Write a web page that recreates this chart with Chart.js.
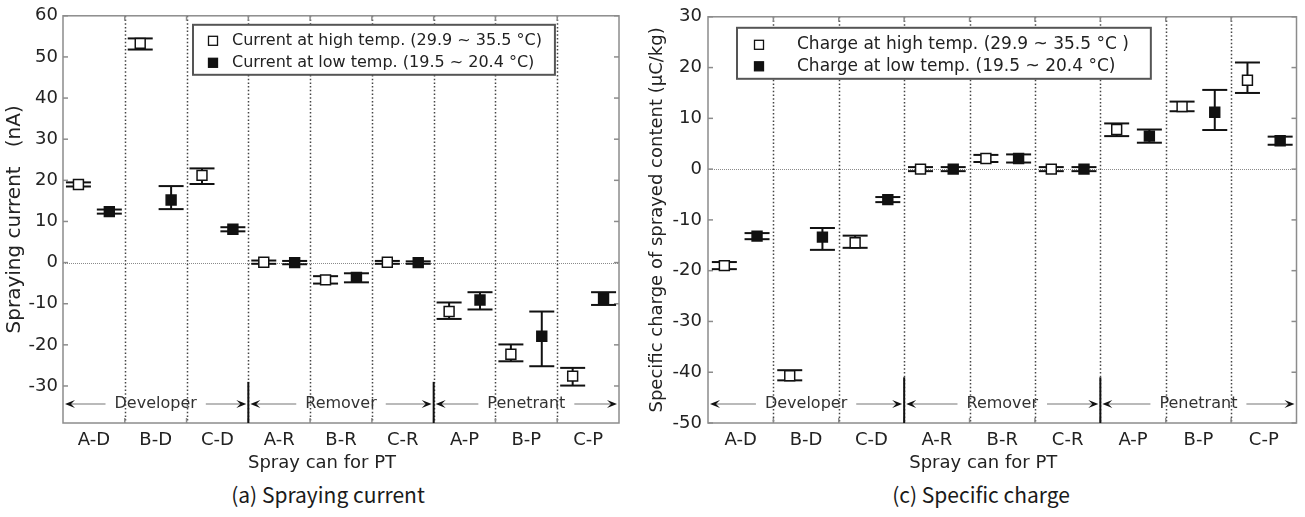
<!DOCTYPE html>
<html lang="en">
<head>
<meta charset="UTF-8">
<title>Spraying current and specific charge of PT spray cans</title>
<script src="https://cdn.jsdelivr.net/npm/chart.js@4.4.1/dist/chart.umd.min.js"></script>
<style>
    body {
        margin: 0;
        background: #fff;
        width: 1305px;
        height: 517px;
        position: relative;
        overflow: hidden;
    }
    canvas {
        position: absolute;
        top: 0;
    }
    #chartA { left: 0; }
    #chartC { left: 640px; }
    .caption {
        position: absolute;
        top: 479px;
        font-family: "Noto Sans CJK KR", sans-serif;
        font-size: 21px;
        color: #1a1a1a;
        white-space: nowrap;
        transform: translateX(-50%);
    }
</style>
</head>
<body>
<canvas id="chartA" width="640" height="478"></canvas>
<canvas id="chartC" width="665" height="478"></canvas>
<div class="caption" style="left:328px">(a) Spraying current</div>
<div class="caption" style="left:981px">(c) Specific charge</div>

<script>
const cans = ['A-D', 'B-D', 'C-D', 'A-R', 'B-R', 'C-R', 'A-P', 'B-P', 'C-P'];
const groups = ['Developer', 'Remover', 'Penetrant'];

// (a) spraying current, nA  (mean, lower and upper end of the error bar)
const currentTicks = [-30, -20, -10, 0, 10, 20, 30, 40, 50, 60];
const currentHigh   = [19.0, 53.3, 21.2, 0.1, -4.2, 0.1, -11.9, -22.3, -27.6];
const currentHighLo = [18.5, 51.8, 19.1, -0.3, -5.1, -0.3, -13.7, -24.0, -29.9];
const currentHighHi = [19.5, 54.5, 22.9, 0.5, -3.3, 0.4, -9.7, -19.9, -25.6];
const currentLow    = [12.4, 15.2, 8.1, 0.0, -3.6, 0.0, -9.1, -17.9, -8.8];
const currentLowLo  = [11.9, 13.0, 7.6, -0.4, -4.8, -0.3, -11.4, -25.2, -10.3];
const currentLowHi  = [12.9, 18.6, 8.6, 0.4, -2.6, 0.3, -7.2, -11.9, -7.2];

// (c) specific charge of sprayed content, uC/kg
const chargeTicks = [-50, -40, -30, -20, -10, 0, 10, 20, 30];
const chargeHigh   = [-19.0, -40.7, -14.5, 0.0, 2.1, 0.0, 7.8, 12.3, 17.5];
const chargeHighLo = [-19.7, -41.6, -15.5, -0.4, 1.4, -0.4, 6.5, 11.4, 15.0];
const chargeHighHi = [-18.3, -39.6, -13.1, 0.4, 2.8, 0.4, 9.0, 13.3, 21.0];
const chargeLow    = [-13.2, -13.4, -6.0, 0.0, 2.1, 0.0, 6.5, 11.2, 5.6];
const chargeLowLo  = [-13.8, -15.9, -6.5, -0.4, 1.3, -0.4, 5.2, 7.7, 4.8];
const chargeLowHi  = [-12.6, -11.6, -5.5, 0.4, 2.9, 0.4, 7.8, 15.6, 6.4];

Chart.defaults.font.family = '"DejaVu Sans", sans-serif';
Chart.defaults.color = '#222';

function line(ctx, x1, y1, x2, y2) {
    ctx.beginPath();
    ctx.moveTo(x1, y1);
    ctx.lineTo(x2, y2);
    ctx.stroke();
}

// dir -1 = pointing left, +1 = pointing right
function arrowHead(ctx, x, y, dir) {
    ctx.beginPath();
    ctx.moveTo(x, y);
    ctx.lineTo(x - dir * 10, y - 4);
    ctx.lineTo(x - dir * 6, y);
    ctx.lineTo(x - dir * 10, y + 4);
    ctx.closePath();
    ctx.fill();
}

// frame, dotted lines, group arrows, error bars, legend box
const sprayDecor = {
    id: 'sprayDecor',
    beforeDatasetsDraw(chart, args, o) {
        const {ctx, chartArea: a, scales: {x, y}} = chart;
        ctx.save();

        // zero line
        ctx.strokeStyle = '#8a8a8a';
        ctx.lineWidth = 1;
        ctx.setLineDash([1, 1]);
        const y0 = Math.round(y.getPixelForValue(0)) + 0.5;
        line(ctx, a.left, y0, a.right, y0);

        // dotted boundaries between cans
        ctx.strokeStyle = '#444';
        ctx.lineWidth = 1.5;
        ctx.setLineDash([1.5, 2.2]);
        for (let i = 1; i < cans.length; i++) {
            const px = Math.round(x.getPixelForValue(i)) + 0.5;
            line(ctx, px, a.top, px, a.bottom);
        }
        ctx.setLineDash([]);

        // axes box with inward ticks
        ctx.strokeStyle = '#8c8c8c';
        ctx.lineWidth = 1.5;
        ctx.strokeRect(a.left, a.top, a.width, a.height);
        y.ticks.forEach(t => {
            const py = y.getPixelForValue(t.value);
            line(ctx, a.left, py, a.left + 5, py);
            line(ctx, a.right, py, a.right - 5, py);
        });
        for (let i = 1; i < cans.length; i++) {
            const px = x.getPixelForValue(i);
            line(ctx, px, a.bottom, px, a.bottom - 5);
            line(ctx, px, a.top, px, a.top + 5);
        }

        // group separators and arrows
        const per = cans.length / groups.length;
        const ay = a.bottom - 19;
        ctx.strokeStyle = '#111';
        ctx.lineWidth = 2;
        for (let g = 1; g < groups.length; g++) {
            const px = x.getPixelForValue(g * per);
            line(ctx, px, y.getPixelForValue(o.sepTop), px, a.bottom);
        }
        ctx.font = '16px "DejaVu Sans"';
        ctx.textAlign = 'center';
        ctx.textBaseline = 'middle';
        groups.forEach((name, g) => {
            const x1 = x.getPixelForValue(g * per) + 2;
            const x2 = x.getPixelForValue((g + 1) * per) - 2;
            const cx = (x1 + x2) / 2;
            const half = ctx.measureText(name).width / 2;
            ctx.fillStyle = '#333';
            ctx.fillText(name, cx, ay);
            ctx.strokeStyle = '#777';
            ctx.lineWidth = 1.2;
            line(ctx, x1 + 6, ay, cx - half - 9, ay);
            line(ctx, cx + half + 9, ay, x2 - 6, ay);
            ctx.fillStyle = '#111';
            arrowHead(ctx, x1, ay, -1);
            arrowHead(ctx, x2, ay, 1);
        });

        // error bars
        ctx.strokeStyle = '#111';
        ctx.lineWidth = 2;
        chart.data.datasets.forEach(ds => {
            ds.data.forEach((p, i) => {
                const px = x.getPixelForValue(p.x);
                const lo = y.getPixelForValue(ds.errLo[i]);
                const hi = y.getPixelForValue(ds.errHi[i]);
                line(ctx, px, lo, px, hi);
                line(ctx, px - 12.5, lo, px + 12.5, lo);
                line(ctx, px - 12.5, hi, px + 12.5, hi);
            });
        });
        ctx.restore();
    },
    afterDatasetsDraw(chart, args, o) {
        const {ctx, chartArea: a} = chart;
        const L = o.legend;
        ctx.save();
        ctx.font = L.size + 'px "DejaVu Sans"';
        const labels = chart.data.datasets.map(ds => ds.label);
        const w = Math.max(...labels.map(t => ctx.measureText(t).width));
        const bx = a.left + L.dx, by = a.top + L.dy;
        const bw = L.textX + w + L.padR;
        ctx.fillStyle = '#fff';
        ctx.fillRect(bx, by, bw, L.h);
        ctx.strokeStyle = '#555';
        ctx.lineWidth = 2;
        ctx.strokeRect(bx, by, bw, L.h);
        ctx.textAlign = 'left';
        ctx.textBaseline = 'middle';
        chart.data.datasets.forEach((ds, k) => {
            const ry = by + L.row0 + k * L.rowGap;
            const mx = bx + L.markerX;
            ctx.fillStyle = ds.pointBackgroundColor;
            ctx.fillRect(mx - 4.5, ry - 4.5, 9, 9);
            ctx.strokeStyle = '#111';
            ctx.lineWidth = 1.3;
            ctx.strokeRect(mx - 4.5, ry - 4.5, 9, 9);
            ctx.fillStyle = '#222';
            ctx.fillText(ds.label, bx + L.textX, ry);
        });
        ctx.restore();
    },
    afterDraw(chart, args, o) {
        const {ctx, chartArea: a} = chart;
        ctx.save();
        ctx.font = '18px "DejaVu Sans"';
        ctx.fillStyle = '#222';
        ctx.textAlign = 'center';
        ctx.textBaseline = 'middle';
        ctx.fillText(o.xTitle, (a.left + a.right) / 2 + o.xTitleShift, a.bottom + 40);
        ctx.restore();
    }
};

function series(label, values, lo, hi, filled, side) {
    return {
        label: label,
        data: values.map((v, i) => ({x: i + 0.5 + side * 0.25, y: v})),
        errLo: lo,
        errHi: hi,
        showLine: false,
        pointStyle: 'rect',
        pointRadius: 7,
        pointHoverRadius: 7,
        pointBackgroundColor: filled ? '#111' : '#fff',
        pointBorderColor: '#111',
        pointBorderWidth: 1.5
    };
}

function makeChart(id, c) {
    return new Chart(id, {
        type: 'scatter',
        data: {datasets: c.datasets},
        options: {
            responsive: false,
            animation: false,
            events: [],
            layout: {padding: {top: 14, right: c.padRight, bottom: 0, left: 0}},
            plugins: {
                legend: {display: false},
                tooltip: {enabled: false},
                sprayDecor: c.decor
            },
            scales: {
                x: {
                    type: 'linear',
                    min: 0,
                    max: cans.length,
                    grid: {display: false, drawTicks: false},
                    border: {display: false},
                    afterBuildTicks: s => { s.ticks = cans.map((n, i) => ({value: i + 0.5})); },
                    afterFit: s => { s.height = 55; },
                    ticks: {
                        autoSkip: false,
                        maxRotation: 0,
                        padding: 7,
                        font: {size: 18},
                        callback: v => cans[Math.floor(v)]
                    }
                },
                y: {
                    min: c.yMin,
                    max: c.yMax,
                    grid: {display: false, drawTicks: false},
                    border: {display: false},
                    afterBuildTicks: s => { s.ticks = c.yTicks.map(v => ({value: v})); },
                    afterFit: s => { s.width = c.yWidth; },
                    ticks: {padding: c.yTickPad, font: {size: 18}},
                    title: {
                        display: true,
                        text: c.yTitle,
                        font: {size: c.yTitleSize},
                        padding: {top: c.yTitlePad, bottom: 0}
                    }
                }
            }
        },
        plugins: [sprayDecor]
    });
}

makeChart('chartA', {
    datasets: [
        series('Current at high temp. (29.9 ~ 35.5 °C)', currentHigh, currentHighLo, currentHighHi, false, -1),
        series('Current at low temp. (19.5 ~ 20.4 °C)', currentLow, currentLowLo, currentLowHi, true, 1)
    ],
    yMin: -39, yMax: 60, yTicks: currentTicks,
    yWidth: 63, yTickPad: 5, padRight: 21,
    yTitle: 'Spraying current   (nA)', yTitleSize: 20, yTitlePad: 3,
    decor: {
        sepTop: -29,
        xTitle: 'Spray can for PT', xTitleShift: -19,
        legend: {dx: 130, dy: 9, h: 50, markerX: 20, textX: 39, padR: 13, row0: 16, rowGap: 22, size: 16}
    }
});

makeChart('chartC', {
    datasets: [
        series('Charge at high temp. (29.9 ~ 35.5 °C )', chargeHigh, chargeHighLo, chargeHighHi, false, -1),
        series('Charge at low temp. (19.5 ~ 20.4 °C)', chargeLow, chargeLowLo, chargeLowHi, true, 1)
    ],
    yMin: -50, yMax: 30, yTicks: chargeTicks,
    yWidth: 68, yTickPad: 6, padRight: 5,
    yTitle: 'Specific charge of sprayed content (μC/kg)', yTitleSize: 18, yTitlePad: 7,
    decor: {
        sepTop: -41,
        xTitle: 'Spray can for PT', xTitleShift: -19,
        legend: {dx: 29, dy: 11, h: 51, markerX: 22, textX: 60, padR: 22, row0: 17, rowGap: 21.5, size: 17}
    }
});
</script>
</body>
</html>
